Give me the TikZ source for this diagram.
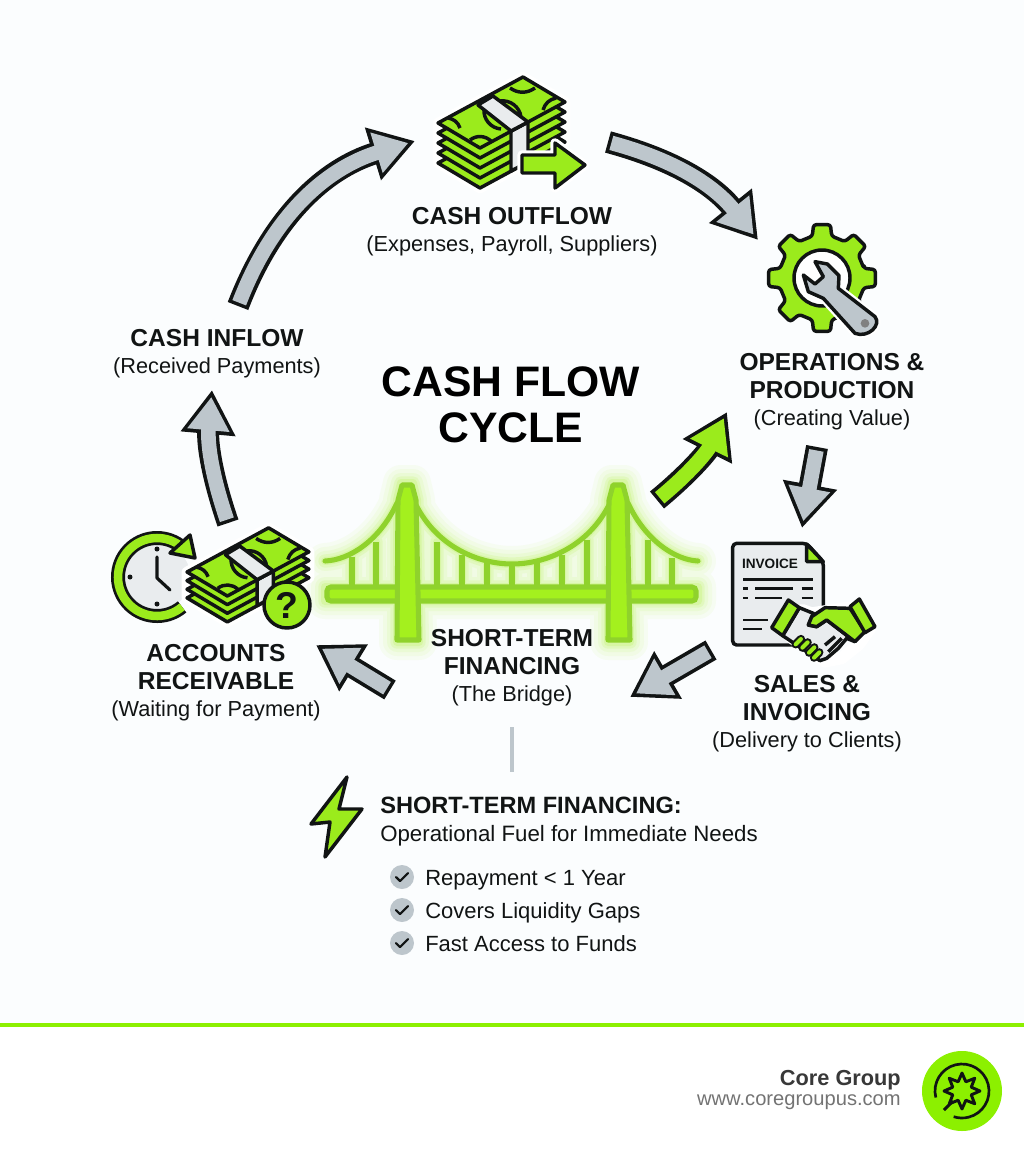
\documentclass[tikz,border=0pt]{standalone}
\usepackage{fontspec}
\setmainfont{Liberation Sans}
\usetikzlibrary{arrows.meta}

\definecolor{pagetint}{HTML}{FBFDFE}
\definecolor{inkblack}{HTML}{111414}
\definecolor{limefill}{HTML}{9BEB1C}
\definecolor{arrowgray}{HTML}{BDC6CC}
\definecolor{paperfill}{HTML}{E9ECEE}
\definecolor{logolime}{HTML}{8CF000}
\definecolor{bridgeedge}{HTML}{8FD22C}
\definecolor{bridgefill}{HTML}{A4F01E}

\tikzset{
    iconline/.style={draw=inkblack, line width=2.6pt, line join=round},
    headtxt/.style={font=\fontsize{18.4}{21}\selectfont\bfseries, text=inkblack, align=center, inner sep=0pt},
    subtxt/.style={font=\fontsize{16.3}{21}\selectfont, text=inkblack, inner sep=0pt},
    listtxt/.style={font=\fontsize{16.5}{21}\selectfont, text=inkblack, inner sep=0pt, anchor=base west},
    tickdot/.style={circle, fill=arrowgray, minimum size=18pt, inner sep=0pt},
    pics/moneystack/.style 2 args={code={
        \draw[white, line width=8pt, line join=round] (0,0) -- (0,{#1*#2}) -- (42,{25+#1*#2}) -- (127,{-21+#1*#2}) -- (127,-21) -- (85,-46) -- cycle;
        \foreach \layer in {#1,...,1}
            \draw[iconline, fill=limefill] (0,{\layer*#2}) -- (42,{25+\layer*#2}) -- (127,{-21+\layer*#2}) -- (85,{-46+\layer*#2}) -- cycle;
        % band side
        \draw[iconline, fill=paperfill] (73,8) -- (90,-1) -- (90,{-1+#1*#2}) -- (73,{8+#1*#2}) -- cycle;
        % top bill
        \draw[iconline, fill=limefill] (0,0) -- (42,25) -- (127,-21) -- (85,-46) -- cycle;
        \draw[iconline, fill=paperfill] (40,-18) -- (55,-27) -- (90,-1) -- (73,8) -- cycle;
        \draw[iconline] (10,-5) to[bend left=30] (22,5);
        \draw[iconline] (32,17) to[bend left=40] (53,18);
        \draw[iconline] (46,-14) to[bend right=45] (63,6);
        \draw[iconline] (72,-35) to[bend right=35] (97,-35);
        \draw[iconline] (105,-13) to[bend left=30] (118,-25);
        \draw[iconline] (62,-22) to[bend left=45] (83,-6);
    }}
}

% fat outlined arrow: fill colour, bend, from, to
\newcommand{\fatarrow}[4]{
    \draw[inkblack, line width=16.5pt, -{Triangle[length=33pt,width=39pt]}] (#3) to[#2] (#4);
    \draw[#1, line width=11pt, shorten >=5.2pt, shorten <=2.6pt, -{Triangle[length=25pt,width=30pt]}] (#3) to[#2] (#4);
}

\newcommand{\bridgeshape}{
    (397,642) -- (397,500) -- (401,483) -- (413,483) -- (417,500) -- (419,642) -- cycle
    (608,642) -- (608,500) -- (612,483) -- (624,483) -- (628,500) -- (630,642) -- cycle
    (325,587) rectangle (698,601)
    (415,503) .. controls (437,548) and (480,564) .. (512,564) .. controls (544,564) and (588,548) .. (610,503)
    (397,503) .. controls (380,540) and (350,560) .. (325,561)
    (628,503) .. controls (645,540) and (675,560) .. (698,561)
    (352,557) -- (352,587) (376,542) -- (376,587)
    (437,542) -- (437,587) (462,555) -- (462,587) (487,562) -- (487,587) (512,564) -- (512,587)
    (537,562) -- (537,587) (562,555) -- (562,587) (587,540) -- (587,587)
    (648,540) -- (648,587) (672,558) -- (672,587)
}

\begin{document}
\begin{tikzpicture}[x=0.75pt,y=-0.75pt]
    % Page
    \useasboundingbox (0,0) rectangle (1024,1154);
    \fill[pagetint] (0,0) rectangle (1024,1026);
    \fill[white] (0,1026) rectangle (1024,1154);

    % Bridge glow
    \foreach \glow/\alpha in {27/.05, 21/.06, 15/.08, 10/.12, 6/.16}
        \draw[bridgefill, line width=\glow pt, opacity=\alpha, line cap=round, line join=round] \bridgeshape;

    % Bridge
    \draw[bridgeedge, line width=3.8pt, line cap=round]
        (415,503) .. controls (437,548) and (480,564) .. (512,564) .. controls (544,564) and (588,548) .. (610,503)
        (397,503) .. controls (380,540) and (350,560) .. (325,561)
        (628,503) .. controls (645,540) and (675,560) .. (698,561);
    \foreach \hx/\hy in {352/557, 376/542, 437/542, 462/555, 487/562, 512/564, 537/562, 562/555, 587/540, 648/540, 672/558}
        \draw[bridgeedge, line width=3.8pt] (\hx,\hy) -- (\hx,587);
    \draw[bridgeedge, fill=bridgefill, line width=3.8pt, rounded corners=3pt] (327,587) rectangle (696,601);
    \draw[bridgeedge, fill=bridgefill, line width=3.8pt, line join=round]
        (397,640) -- (398,500) -- (402,485) -- (412,485) -- (416,500) -- (419,640) -- cycle;
    \draw[bridgeedge, fill=bridgefill, line width=3.8pt, line join=round]
        (608,640) -- (609,500) -- (613,485) -- (623,485) -- (627,500) -- (630,640) -- cycle;

    % Arrow ends
    \coordinate (inflowtail) at (238,306);
    \coordinate (outflowtip) at (415,141);
    \coordinate (outflowtail) at (608,142);
    \coordinate (opstip) at (758,240);
    \coordinate (opstail) at (817,447);
    \coordinate (salestip) at (802,528);
    \coordinate (salestail) at (711,650);
    \coordinate (financetip) at (630,697);
    \coordinate (financetail) at (390,690);
    \coordinate (receivabletip) at (316,645);
    \coordinate (receivabletail) at (228,523);
    \coordinate (inflowtip) at (212,390);
    \coordinate (bridgetail) at (657,500);
    \coordinate (bridgetip) at (727,412);

    % Cycle arrows
    \fatarrow{arrowgray}{bend left=26}{inflowtail}{outflowtip}
    \fatarrow{arrowgray}{bend left=18}{outflowtail}{opstip}
    \fatarrow{arrowgray}{bend left=0}{opstail}{salestip}
    \fatarrow{arrowgray}{bend left=0}{salestail}{financetip}
    \fatarrow{arrowgray}{bend left=0}{financetail}{receivabletip}
    \fatarrow{arrowgray}{bend left=12}{receivabletail}{inflowtip}
    \fatarrow{limefill}{bend right=12}{bridgetail}{bridgetip}

    % Cash outflow icon
    \pic (outflowcash) at (438,123) {moneystack={4}{10}};
    \draw[white, line width=7pt, line join=round] (522,155) -- (555,155) -- (555,143) -- (585,165) -- (555,188) -- (555,173) -- (522,173) -- cycle;
    \draw[iconline, fill=limefill] (522,155) -- (555,155) -- (555,143) -- (585,165) -- (555,188) -- (555,173) -- (522,173) -- cycle;

    % Gear icon
    \draw[iconline, fill=limefill, rounded corners=2pt, shift={(822,278)}] (-13:43)
        \foreach \tooth in {0,45,...,315}{ -- (\tooth-13:43) -- (\tooth-9:54) -- (\tooth+9:54) -- (\tooth+13:43)} -- cycle;
    \draw[iconline, fill=white] (822,278) circle (28);
    \begin{scope}[shift={(740,210)},scale=1/3]
        \draw[white, line width=6pt, line join=round] (225,155) -- (262,162) -- (297,197) -- (295,235) -- (405,320) .. controls (425,345) and (385,385) .. (345,370) -- (250,265) -- (205,245) -- (190,195) -- (225,222) -- (250,200) -- cycle;
        \draw[iconline, fill=arrowgray] (225,155) -- (262,162) -- (297,197) -- (295,235) -- (405,320) .. controls (425,345) and (385,385) .. (345,370) -- (250,265) -- (205,245) -- (190,195) -- (225,222) -- (250,200) -- cycle;
        \fill[gray] (375,340) circle (13);
    \end{scope}

    % Invoice icon
    \begin{scope}[shift={(710,530)},scale=1/3]
        \draw[iconline, fill=paperfill, rounded corners=3pt] (68,40) -- (290,40) -- (340,95) -- (340,345) -- (68,345) -- cycle;
        \draw[iconline, fill=limefill, line join=round] (290,42) -- (340,95) -- (290,95) -- cycle;
        \draw (180,100) node[font=\fontsize{10.2}{12}\selectfont\bfseries, text=inkblack, inner sep=0pt] (invoicetxt) {INVOICE};
        \foreach \xa/\xb/\ly in {100/310/148, 100/115/176, 135/250/176, 275/310/176, 100/115/204, 135/215/204, 275/310/204, 100/175/270, 100/155/297}
            \draw[inkblack, line width=2.2pt] (\xa,\ly) -- (\xb,\ly);
        % Handshake
        \draw[white, line width=9pt, line join=round] (277,240) -- (305,250) -- (420,232) -- (480,298) -- (445,345) -- (395,385) -- (345,395) -- (240,320) -- cycle;
        \draw[iconline, fill=paperfill] (268,233) -- (310,250) -- (295,285) -- (320,290) -- (350,270) -- (435,335) -- (410,325) -- (385,355) -- (350,385) -- (330,392) -- (218,317) -- cycle;
        \draw[iconline, fill=limefill] (420,235) -- (345,233) -- (305,260) -- (295,285) -- (320,290) -- (350,270) -- (435,335) -- (465,305) -- cycle;
        \draw[iconline, fill=limefill] (235,210) -- (268,233) -- (218,317) -- (185,293) -- cycle;
        \draw[iconline, fill=limefill] (448,207) -- (495,290) -- (465,308) -- (420,230) -- cycle;
        \foreach \xa/\ya/\xb/\yb in {257/343/273/327, 277/353/293/337, 297/368/313/352, 312/383/328/367} {
            \draw[inkblack, line width=6.2pt, line cap=round] (\xa,\ya) -- (\xb,\yb);
            \draw[limefill, line width=3pt, line cap=round] (\xa,\ya) -- (\xb,\yb);
        }
        \draw[iconline] (345,345) -- (375,320) (355,365) -- (395,325);
    \end{scope}

    % Receivable icon
    \draw[paperfill, fill=paperfill] (157,577) circle (33);
    \draw[inkblack, line width=10.5pt] (157,577) ++(50:39) arc (50:310:39);
    \draw[limefill, line width=6.4pt] (157,577) ++(50:39) arc (50:310:39);
    \draw[iconline, fill=limefill] (190,535) -- (195,558) -- (170,553) -- cycle;
    \fill[inkblack] (157,549) circle (2.5) (130,577) circle (2.5) (157,604) circle (2.5);
    \draw[inkblack, line width=2.4pt, line cap=round, line join=round] (157,557) -- (157,578) -- (170,590);
    \pic[scale=.96] (receivablecash) at (187,572) {moneystack={3}{9}};
    \draw[iconline, fill=limefill] (287,605) circle (23);
    \draw (287,605) node[font=\fontsize{28}{28}\selectfont\bfseries, text=inkblack, inner sep=0pt] (questionmark) {?};

    % Cycle labels
    \draw (512,216) node[headtxt] (outflowhead) {CASH OUTFLOW};
    \draw (512,246) node[subtxt] (outflowsub) {(Expenses, Payroll, Suppliers)};
    \draw (217,338) node[headtxt] (inflowhead) {CASH INFLOW};
    \draw (217,368) node[subtxt] (inflowsub) {(Received Payments)};
    \draw (832,376) node[headtxt] (opshead) {OPERATIONS \&\\PRODUCTION};
    \draw (832,420) node[subtxt] (opssub) {(Creating Value)};
    \draw (216,667) node[headtxt] (receivablehead) {ACCOUNTS\\RECEIVABLE};
    \draw (216,711) node[subtxt] (receivablesub) {(Waiting for Payment)};
    \draw (512,652) node[headtxt] (financehead) {SHORT-TERM\\FINANCING};
    \draw (512,696) node[subtxt] (financesub) {(The Bridge)};
    \draw (807,698) node[headtxt] (saleshead) {SALES \&\\INVOICING};
    \draw (807,742) node[subtxt] (salessub) {(Delivery to Clients)};

    % Title
    \draw (511,405) node[font=\fontsize{32}{34.5}\selectfont\bfseries, text=black, align=center, inner sep=0pt] (cycletitle) {CASH FLOW\\CYCLE};

    % Short-term financing note
    \coordinate (notetop) at (512,727);
    \coordinate (notebottom) at (512,772);
    \draw[arrowgray, line width=2.4pt] (notetop) -- (notebottom);
    \draw[iconline, fill=limefill] (347,777) -- (311,824) -- (330,822) -- (325,857) -- (362,809) -- (339,809) -- cycle;
    \draw (380,805) node[headtxt, anchor=west, font=\fontsize{17.7}{21}\selectfont\bfseries] (notehead) {SHORT-TERM FINANCING:};
    \draw (380,841) node[listtxt, font=\fontsize{16.7}{21}\selectfont] (notesub) {Operational Fuel for Immediate Needs};

    % Check list
    \foreach \ly/\ltxt in {877/Repayment < 1 Year, 910/Covers Liquidity Gaps, 943/Fast Access to Funds} {
        \draw (402,\ly) node[tickdot] (tick\ly) {};
        \draw[inkblack, line width=1.6pt, line cap=round, line join=round] (396,\ly) -- (400,\ly+4) -- (408,\ly-4);
        \draw (425,\ly+8) node[listtxt] (item\ly) {\ltxt};
    }

    % Footer
    \draw[logolime, line width=2.6pt] (0,1025) -- (1024,1025);
    \draw (901,1080) node[anchor=east, inner sep=0pt, font=\fontsize{16.3}{20}\selectfont\bfseries, text=black!78] (brandname) {Core Group};
    \draw (901,1102) node[anchor=east, inner sep=0pt, font=\fontsize{15.1}{20}\selectfont, text=black!55] (brandsite) {www.coregroupus.com};
    \fill[logolime] (962,1091) circle (40);
    \draw[inkblack, line width=2pt] (962,1091) ++(166:27) arc (166:468:27);
    \draw[inkblack, line width=2.2pt, line join=round, shift={(962,1091)}] (-22.5:10)
        \foreach \spike in {0,45,...,315}{ -- (\spike-22.5:10) -- (\spike:18)} -- cycle;
    \draw[inkblack, line width=2.2pt] (953,1101) -- (944,1110);
\end{tikzpicture}
\end{document}
